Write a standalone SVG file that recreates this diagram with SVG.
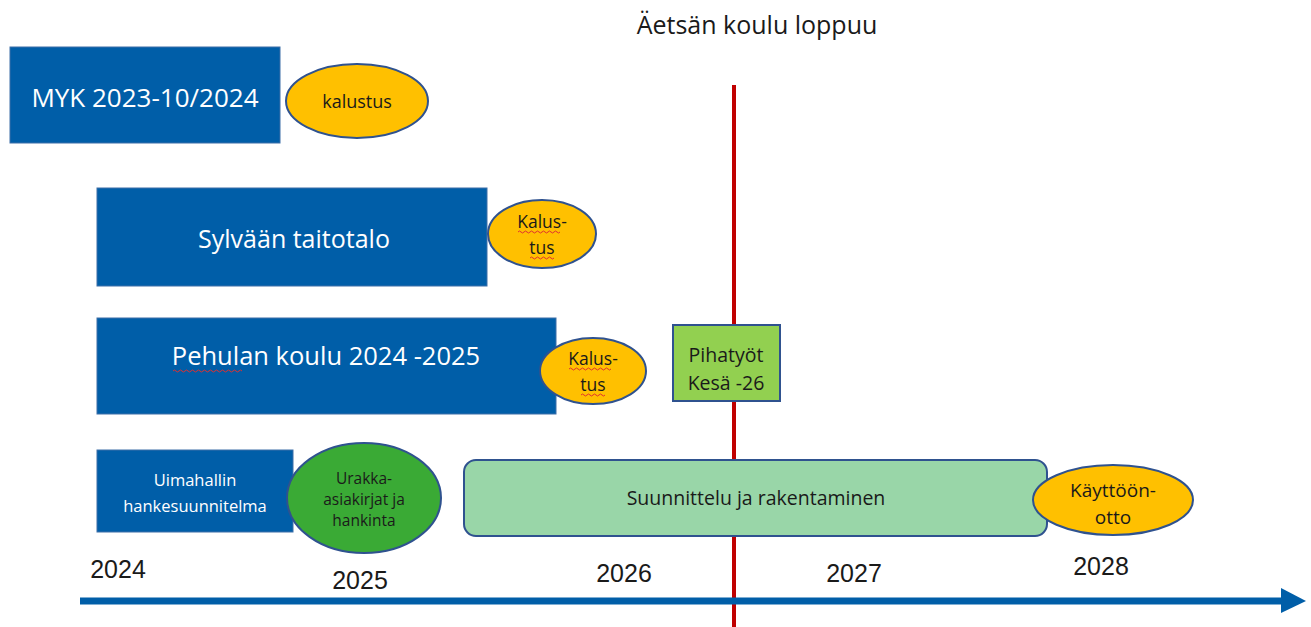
<svg xmlns="http://www.w3.org/2000/svg" width="1311" height="627" viewBox="0 0 1311 627">
  <style>
    text { font-family: "Open Sans", "Liberation Sans", sans-serif; text-anchor: middle; }
    .blue { fill: #005EA8; stroke: #3C6FA8; stroke-width: 1; }
    .wt { fill: #ffffff; }
    .dk { fill: #1a1a1a; }
    .yel { fill: #FFC000; stroke: #2F528F; stroke-width: 2; }
    .yr { font-family: "Liberation Sans", sans-serif; font-size: 25px; fill: #1a1a1a; }
    .wavy { fill: none; stroke: #E03030; stroke-width: 1; }
  </style>
  <rect width="1311" height="627" fill="#ffffff"/>

  <g id="title">
    <text x="757" y="34" font-size="25" class="dk">Äetsän koulu loppuu</text>
  </g>

  <g id="connectors">
    <line x1="734" y1="85" x2="734" y2="627" stroke="#C00000" stroke-width="4"/>
    <line x1="80" y1="601" x2="1284" y2="601" stroke="#005EA8" stroke-width="7"/>
    <polygon points="1281,588 1306,601 1281,613" fill="#005EA8"/>
  </g>

  <g id="myk">
    <rect class="blue" x="10" y="47" width="270" height="96"/>
    <text class="wt" x="145" y="107" font-size="26">MYK 2023-10/2024</text>
  </g>
  <g id="kalustus1">
    <ellipse class="yel" cx="357" cy="101" rx="71" ry="37"/>
    <text class="dk" x="357" y="108" font-size="18">kalustus</text>
  </g>

  <g id="sylvaan">
    <rect class="blue" x="97" y="188" width="390" height="98"/>
    <text class="wt" x="294" y="248" font-size="25">Sylvään taitotalo</text>
  </g>
  <g id="kalustus2">
    <ellipse class="yel" cx="542" cy="234" rx="54" ry="34"/>
    <text class="dk" x="542" y="228" font-size="17.5">Kalus-</text>
    <text class="dk" x="542" y="254" font-size="17.5">tus</text>
    <path class="wavy" d="M518,232 q1.5,-2 3,0 t3,0 t3,0 t3,0 t3,0 t3,0 t3,0 t3,0 t3,0 t3,0 t3,0 t3,0 t3,0 t3,0"/>
    <path class="wavy" d="M530,258 q1.5,-2 3,0 t3,0 t3,0 t3,0 t3,0 t3,0 t3,0 t3,0"/>
  </g>

  <g id="pehulan">
    <rect class="blue" x="97" y="318" width="459" height="96"/>
    <text class="wt" x="326" y="365" font-size="25.5">Pehulan koulu 2024 -2025</text>
    <path class="wavy" d="M173,371 q1.5,-2 3,0 t3,0 t3,0 t3,0 t3,0 t3,0 t3,0 t3,0 t3,0 t3,0 t3,0 t3,0 t3,0 t3,0 t3,0 t3,0 t3,0 t3,0 t3,0 t3,0 t3,0 t3,0 t3,0"/>
  </g>
  <g id="kalustus3">
    <ellipse class="yel" cx="593" cy="371" rx="53" ry="33"/>
    <text class="dk" x="593" y="365" font-size="17.5">Kalus-</text>
    <text class="dk" x="593" y="391" font-size="17.5">tus</text>
    <path class="wavy" d="M569,369 q1.5,-2 3,0 t3,0 t3,0 t3,0 t3,0 t3,0 t3,0 t3,0 t3,0 t3,0 t3,0 t3,0 t3,0 t3,0"/>
    <path class="wavy" d="M581,395 q1.5,-2 3,0 t3,0 t3,0 t3,0 t3,0 t3,0 t3,0 t3,0"/>
  </g>

  <g id="pihatyot">
    <rect x="673" y="325" width="107" height="76" fill="#92D050" stroke="#2F528F" stroke-width="2"/>
    <text class="dk" x="726" y="362" font-size="19.5">Pihatyöt</text>
    <text class="dk" x="726" y="390" font-size="19.5">Kesä -26</text>
  </g>

  <g id="uimahalli">
    <rect class="blue" x="97" y="450" width="196" height="82"/>
    <text class="wt" x="195" y="486" font-size="16.5">Uimahallin</text>
    <text class="wt" x="195" y="512" font-size="16.5">hankesuunnitelma</text>
  </g>
  <g id="urakka">
    <ellipse cx="364" cy="498" rx="77" ry="55" fill="#3AAA35" stroke="#2F528F" stroke-width="2"/>
    <text class="dk" x="364" y="484" font-size="15.5">Urakka-</text>
    <text class="dk" x="364" y="505" font-size="15.5">asiakirjat ja</text>
    <text class="dk" x="364" y="526" font-size="15.5">hankinta</text>
  </g>

  <g id="suunnittelu">
    <rect x="464" y="460" width="583" height="76" rx="12" ry="12" fill="#99D6A8" stroke="#2F528F" stroke-width="2"/>
    <text class="dk" x="756" y="505" font-size="19.5">Suunnittelu ja rakentaminen</text>
  </g>
  <g id="kayttoonotto">
    <ellipse class="yel" cx="1113" cy="500" rx="80" ry="35"/>
    <text class="dk" x="1113" y="497" font-size="19">Käyttöön-</text>
    <text class="dk" x="1113" y="524" font-size="19">otto</text>
  </g>

  <g id="years">
    <text class="yr" x="118" y="578">2024</text>
    <text class="yr" x="360" y="589">2025</text>
    <text class="yr" x="624" y="582">2026</text>
    <text class="yr" x="854" y="582">2027</text>
    <text class="yr" x="1101" y="575">2028</text>
  </g>
</svg>
